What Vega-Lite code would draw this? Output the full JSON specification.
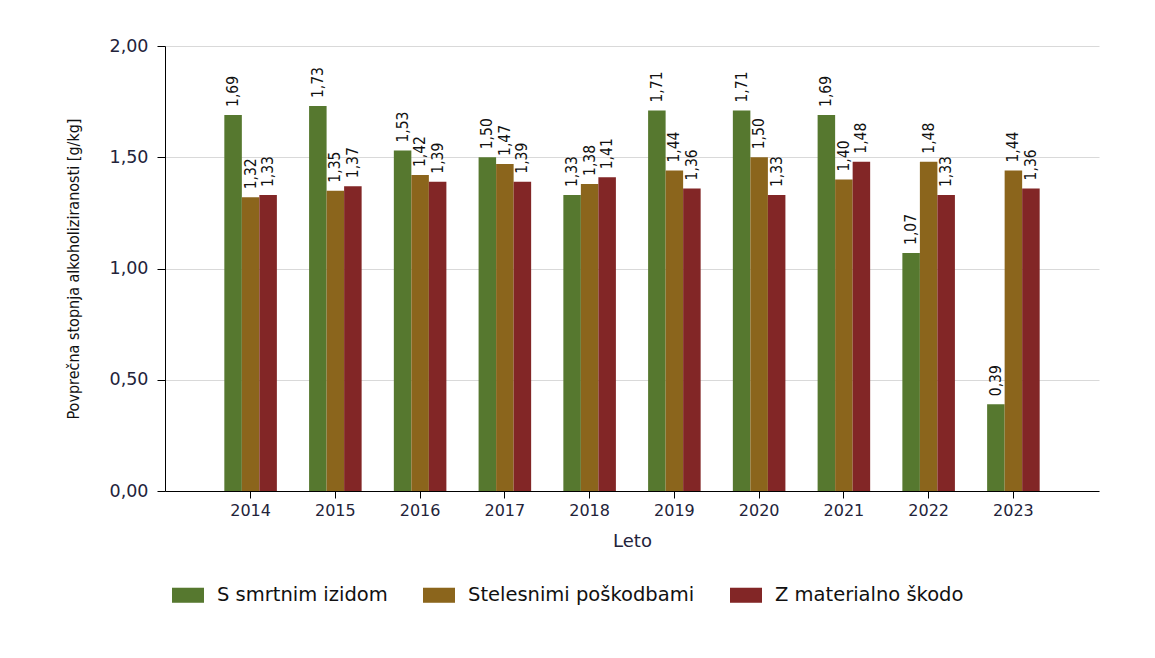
{
  "$schema": "https://vega.github.io/schema/vega-lite/v6.json",
  "autosize": {"type": "none"},
  "padding": {"left": 165, "top": 46, "right": 56, "bottom": 167},
  "width": 934,
  "height": 445,
  "background": "white",
  "data": {"values": [
    {"leto": "2014", "vrsta": "S smrtnim izidom", "v": 1.69},
    {"leto": "2014", "vrsta": "Stelesnimi poškodbami", "v": 1.32},
    {"leto": "2014", "vrsta": "Z materialno škodo", "v": 1.33},
    {"leto": "2015", "vrsta": "S smrtnim izidom", "v": 1.73},
    {"leto": "2015", "vrsta": "Stelesnimi poškodbami", "v": 1.35},
    {"leto": "2015", "vrsta": "Z materialno škodo", "v": 1.37},
    {"leto": "2016", "vrsta": "S smrtnim izidom", "v": 1.53},
    {"leto": "2016", "vrsta": "Stelesnimi poškodbami", "v": 1.42},
    {"leto": "2016", "vrsta": "Z materialno škodo", "v": 1.39},
    {"leto": "2017", "vrsta": "S smrtnim izidom", "v": 1.50},
    {"leto": "2017", "vrsta": "Stelesnimi poškodbami", "v": 1.47},
    {"leto": "2017", "vrsta": "Z materialno škodo", "v": 1.39},
    {"leto": "2018", "vrsta": "S smrtnim izidom", "v": 1.33},
    {"leto": "2018", "vrsta": "Stelesnimi poškodbami", "v": 1.38},
    {"leto": "2018", "vrsta": "Z materialno škodo", "v": 1.41},
    {"leto": "2019", "vrsta": "S smrtnim izidom", "v": 1.71},
    {"leto": "2019", "vrsta": "Stelesnimi poškodbami", "v": 1.44},
    {"leto": "2019", "vrsta": "Z materialno škodo", "v": 1.36},
    {"leto": "2020", "vrsta": "S smrtnim izidom", "v": 1.71},
    {"leto": "2020", "vrsta": "Stelesnimi poškodbami", "v": 1.50},
    {"leto": "2020", "vrsta": "Z materialno škodo", "v": 1.33},
    {"leto": "2021", "vrsta": "S smrtnim izidom", "v": 1.69},
    {"leto": "2021", "vrsta": "Stelesnimi poškodbami", "v": 1.40},
    {"leto": "2021", "vrsta": "Z materialno škodo", "v": 1.48},
    {"leto": "2022", "vrsta": "S smrtnim izidom", "v": 1.07},
    {"leto": "2022", "vrsta": "Stelesnimi poškodbami", "v": 1.48},
    {"leto": "2022", "vrsta": "Z materialno škodo", "v": 1.33},
    {"leto": "2023", "vrsta": "S smrtnim izidom", "v": 0.39},
    {"leto": "2023", "vrsta": "Stelesnimi poškodbami", "v": 1.44},
    {"leto": "2023", "vrsta": "Z materialno škodo", "v": 1.36}
  ]},
  "encoding": {
    "x": {
      "field": "leto", "type": "nominal",
      "scale": {"paddingInner": 0.38, "paddingOuter": 0.7},
      "axis": {
        "title": "Leto", "labelAngle": 0, "domainColor": "black", "tickColor": "black",
        "tickSize": 7, "labelFont": "DejaVu Sans", "labelFontSize": 16, "labelColor": "#23233a",
        "labelPadding": 4, "titleFont": "DejaVu Sans", "titleFontSize": 18, "titleFontWeight": "normal",
        "titleColor": "#23233a", "titlePadding": 14, "grid": false
      }
    },
    "xOffset": {"field": "vrsta", "type": "nominal", "scale": {"paddingInner": 0, "paddingOuter": 0}},
    "y": {
      "field": "v", "type": "quantitative",
      "scale": {"domain": [0, 2], "nice": false},
      "axis": {
        "title": "Povprečna stopnja alkoholiziranosti [g/kg]",
        "values": [0, 0.5, 1, 1.5, 2],
        "labelExpr": "replace(format(datum.value, '.2f'), '.', ',')",
        "domainColor": "black", "tickColor": "black", "tickSize": 8,
        "labelFont": "DejaVu Sans", "labelFontSize": 17.5, "labelColor": "#23233a", "labelPadding": 9,
        "titleFont": "DejaVu Sans Condensed", "titleFontSize": 16, "titleFontWeight": "normal",
        "titleColor": "#111111", "titlePadding": 28,
        "gridColor": "#d9d9d9", "gridWidth": 1
      }
    }
  },
  "layer": [
    {
      "mark": {"type": "bar"},
      "encoding": {
        "color": {
          "field": "vrsta", "type": "nominal",
          "scale": {"domain": ["S smrtnim izidom", "Stelesnimi poškodbami", "Z materialno škodo"],
                    "range": ["#56782f", "#8b651c", "#822626"]},
          "legend": {
            "title": null, "orient": "none", "direction": "horizontal",
            "legendX": 7, "legendY": 533,
            "symbolType": "M-1,-0.47H1V0.47H-1Z", "symbolSize": 1024, "symbolStrokeWidth": 0,
            "symbolOpacity": 1,
            "labelFont": "DejaVu Sans", "labelFontSize": 19.5, "labelColor": "#111111",
            "labelOffset": 13, "columnPadding": 35, "labelLimit": 500
          }
        }
      }
    },
    {
      "mark": {"type": "text", "angle": -90, "align": "left", "baseline": "middle", "dx": 8,
               "font": "DejaVu Sans Condensed", "fontSize": 15.5, "color": "#111111"},
      "encoding": {
        "text": {"field": "v", "type": "quantitative", "format": ".2f", "formatType": "number"}
      }
    }
  ],
  "config": {
    "locale": {"number": {"decimal": ",", "thousands": ".", "grouping": [3], "currency": ["", " €"]}},
    "view": {"stroke": null}
  }
}
